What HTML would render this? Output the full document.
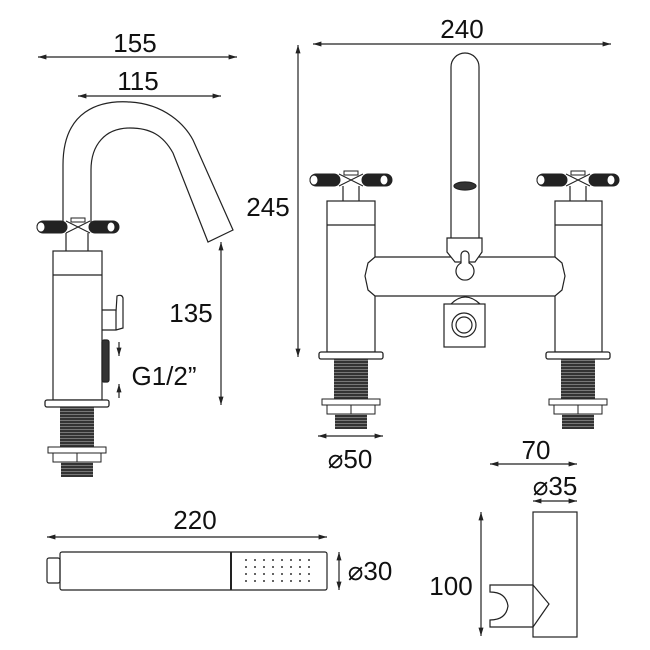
<!DOCTYPE html>
<html><head><style>body{margin:0;background:#fff}svg{display:block}text{font-family:"Liberation Sans","DejaVu Sans",sans-serif;fill:#111}</style></head><body>
<svg width="650" height="650" viewBox="0 0 650 650" xmlns="http://www.w3.org/2000/svg">
<defs>
<marker id="a" viewBox="0 0 10 10" refX="10" refY="5" markerWidth="7" markerHeight="7" orient="auto-start-reverse"><path d="M0,2L10,5L0,8z" fill="#222"/></marker>
<pattern id="th" width="4" height="3" patternUnits="userSpaceOnUse"><rect width="4" height="3" fill="#333"/><rect y="2" width="4" height="1" fill="#777"/></pattern>
<g id="handle">
<rect x="-41" y="-6" width="30" height="12" rx="6" fill="#222" stroke="#222"/>
<rect x="11" y="-6" width="30" height="12" rx="6" fill="#222" stroke="#222"/>
<ellipse cx="-37" cy="0" rx="4" ry="5" fill="#fff" stroke="#222"/>
<ellipse cx="33" cy="0" rx="4" ry="5" fill="#fff" stroke="#222"/>
<path d="M-12,-6 L12,6 M-12,6 L12,-6" stroke="#222" fill="none"/>
<rect x="-7" y="-9" width="14" height="4" fill="#fff" stroke="#222"/>
</g>
<g id="foot">
<rect x="-32" y="0" width="64" height="7" rx="2" fill="#fff" stroke="#222" stroke-width="1.3"/>
<rect x="-17" y="7" width="34" height="40" fill="url(#th)"/>
<rect x="-29" y="47" width="58" height="6" fill="#fff" stroke="#222"/>
<path d="M-24,53 L-24,62 L24,62 L24,53 M0,53 L0,62" fill="none" stroke="#222"/>
<rect x="-16" y="62" width="32" height="15" fill="url(#th)"/>
</g>
<g id="dr" fill="#333"><circle cx="246" cy="0" r="1"/><circle cx="255" cy="0" r="1"/><circle cx="264" cy="0" r="1"/><circle cx="273" cy="0" r="1"/><circle cx="282" cy="0" r="1"/><circle cx="291" cy="0" r="1"/><circle cx="300" cy="0" r="1"/><circle cx="309" cy="0" r="1"/></g>
</defs>
<g stroke="#222" stroke-width="1.2" fill="none">
<line x1="38" y1="57" x2="237" y2="57" marker-start="url(#a)" marker-end="url(#a)"/>
<line x1="78" y1="96" x2="221" y2="96" marker-start="url(#a)" marker-end="url(#a)"/>
<line x1="221" y1="242" x2="221" y2="405" marker-start="url(#a)" marker-end="url(#a)"/>
<line x1="298" y1="45" x2="298" y2="357" marker-start="url(#a)" marker-end="url(#a)"/>
<line x1="119" y1="342" x2="119" y2="356" marker-end="url(#a)"/>
<line x1="119" y1="398" x2="119" y2="384" marker-end="url(#a)"/>
<path d="M63,225 L63,165 C63,110 100,100 130,102 C165,104 185,125 193,140 L233,230 L208,242 L173,153 C163,135 150,128 130,128 C105,128 91,145 91,170 L91,225"/>
<rect x="53" y="251" width="49" height="149" fill="#fff"/>
<line x1="53" y1="275" x2="102" y2="275"/>
<line x1="66" y1="233" x2="66" y2="251"/><line x1="88" y1="233" x2="88" y2="251"/>
<path d="M102,310 L116,310 L116,330 L102,330 M116,312 L117,296 Q122,294 123,298 L123,328 L116,330"/>
<rect x="102" y="340" width="7" height="42" rx="2" fill="#333"/>
</g>
<use href="#handle" x="78" y="227"/>
<use href="#foot" x="77" y="400"/>
<g stroke="#222" stroke-width="1.2" fill="none">
<line x1="313" y1="44" x2="611" y2="44" marker-start="url(#a)" marker-end="url(#a)"/>
<line x1="318" y1="436" x2="383" y2="436" marker-start="url(#a)" marker-end="url(#a)"/>
<path d="M451,238 L451,67 A14,14 0 0 1 479,67 L479,238" fill="#fff"/>
<ellipse cx="465" cy="186" rx="11" ry="4" fill="#333"/>
<rect x="327" y="201" width="48" height="151" fill="#fff"/>
<line x1="327" y1="225" x2="375" y2="225"/>
<rect x="555" y="201" width="47" height="151" fill="#fff"/>
<line x1="555" y1="225" x2="602" y2="225"/>
<line x1="343" y1="186" x2="343" y2="201"/><line x1="359" y1="186" x2="359" y2="201"/>
<line x1="570" y1="186" x2="570" y2="201"/><line x1="586" y1="186" x2="586" y2="201"/>
<path d="M375,257 L555,257 L562,263 L565,276 L562,290 L555,296 L375,296 L368,290 L365,276 L368,263 Z" fill="#fff"/>
<path d="M447,238 L482,238 L482,252 L475,262 L455,262 L447,252 Z" fill="#fff"/>
<path d="M461,255 L461,263 A9,9 0 1 0 469,263 L469,255 A4,4 0 0 0 461,255 Z" fill="#fff"/>
<path d="M451,304 Q465,290 480,304"/>
<rect x="444" y="304" width="41" height="43" fill="#fff"/>
<circle cx="464" cy="325" r="12"/><circle cx="464" cy="325" r="8"/>
</g>
<use href="#handle" x="351" y="180"/>
<use href="#handle" x="578" y="180"/>
<use href="#foot" x="351" y="352"/>
<use href="#foot" x="578" y="352"/>
<g stroke="#222" stroke-width="1.2" fill="none">
<line x1="47" y1="537" x2="327" y2="537" marker-start="url(#a)" marker-end="url(#a)"/>
<line x1="339" y1="552" x2="339" y2="590" marker-start="url(#a)" marker-end="url(#a)"/>
<rect x="60" y="552" width="267" height="38" rx="2"/>
<rect x="47" y="558" width="13" height="25" rx="2"/>
<line x1="231" y1="552" x2="231" y2="590" stroke-width="2"/>
<line x1="490" y1="464" x2="577" y2="464" marker-start="url(#a)" marker-end="url(#a)"/>
<line x1="533" y1="501" x2="577" y2="501" marker-start="url(#a)" marker-end="url(#a)"/>
<line x1="481" y1="512" x2="481" y2="636" marker-start="url(#a)" marker-end="url(#a)"/>
<rect x="533" y="512" width="44" height="125"/>
<path d="M533,585 L490,585 L490,592 Q506,592 508,606 Q506,620 490,620 L490,627 L533,627 M533,585 L549,604 L533,627"/>
</g>
<use href="#dr" y="560"/><use href="#dr" y="567"/><use href="#dr" y="574"/><use href="#dr" y="581"/>
<g font-size="26" text-anchor="middle">
<text x="135" y="52">155</text>
<text x="138" y="90">115</text>
<text x="268" y="216">245</text>
<text x="191" y="322">135</text>
<text x="164" y="385">G1/2”</text>
<text x="462" y="38">240</text>
<text x="350" y="468">⌀50</text>
<text x="195" y="529">220</text>
<text x="370" y="580">⌀30</text>
<text x="536" y="459">70</text>
<text x="555" y="495">⌀35</text>
<text x="451" y="595">100</text>
</g>
</svg>
</body></html>
